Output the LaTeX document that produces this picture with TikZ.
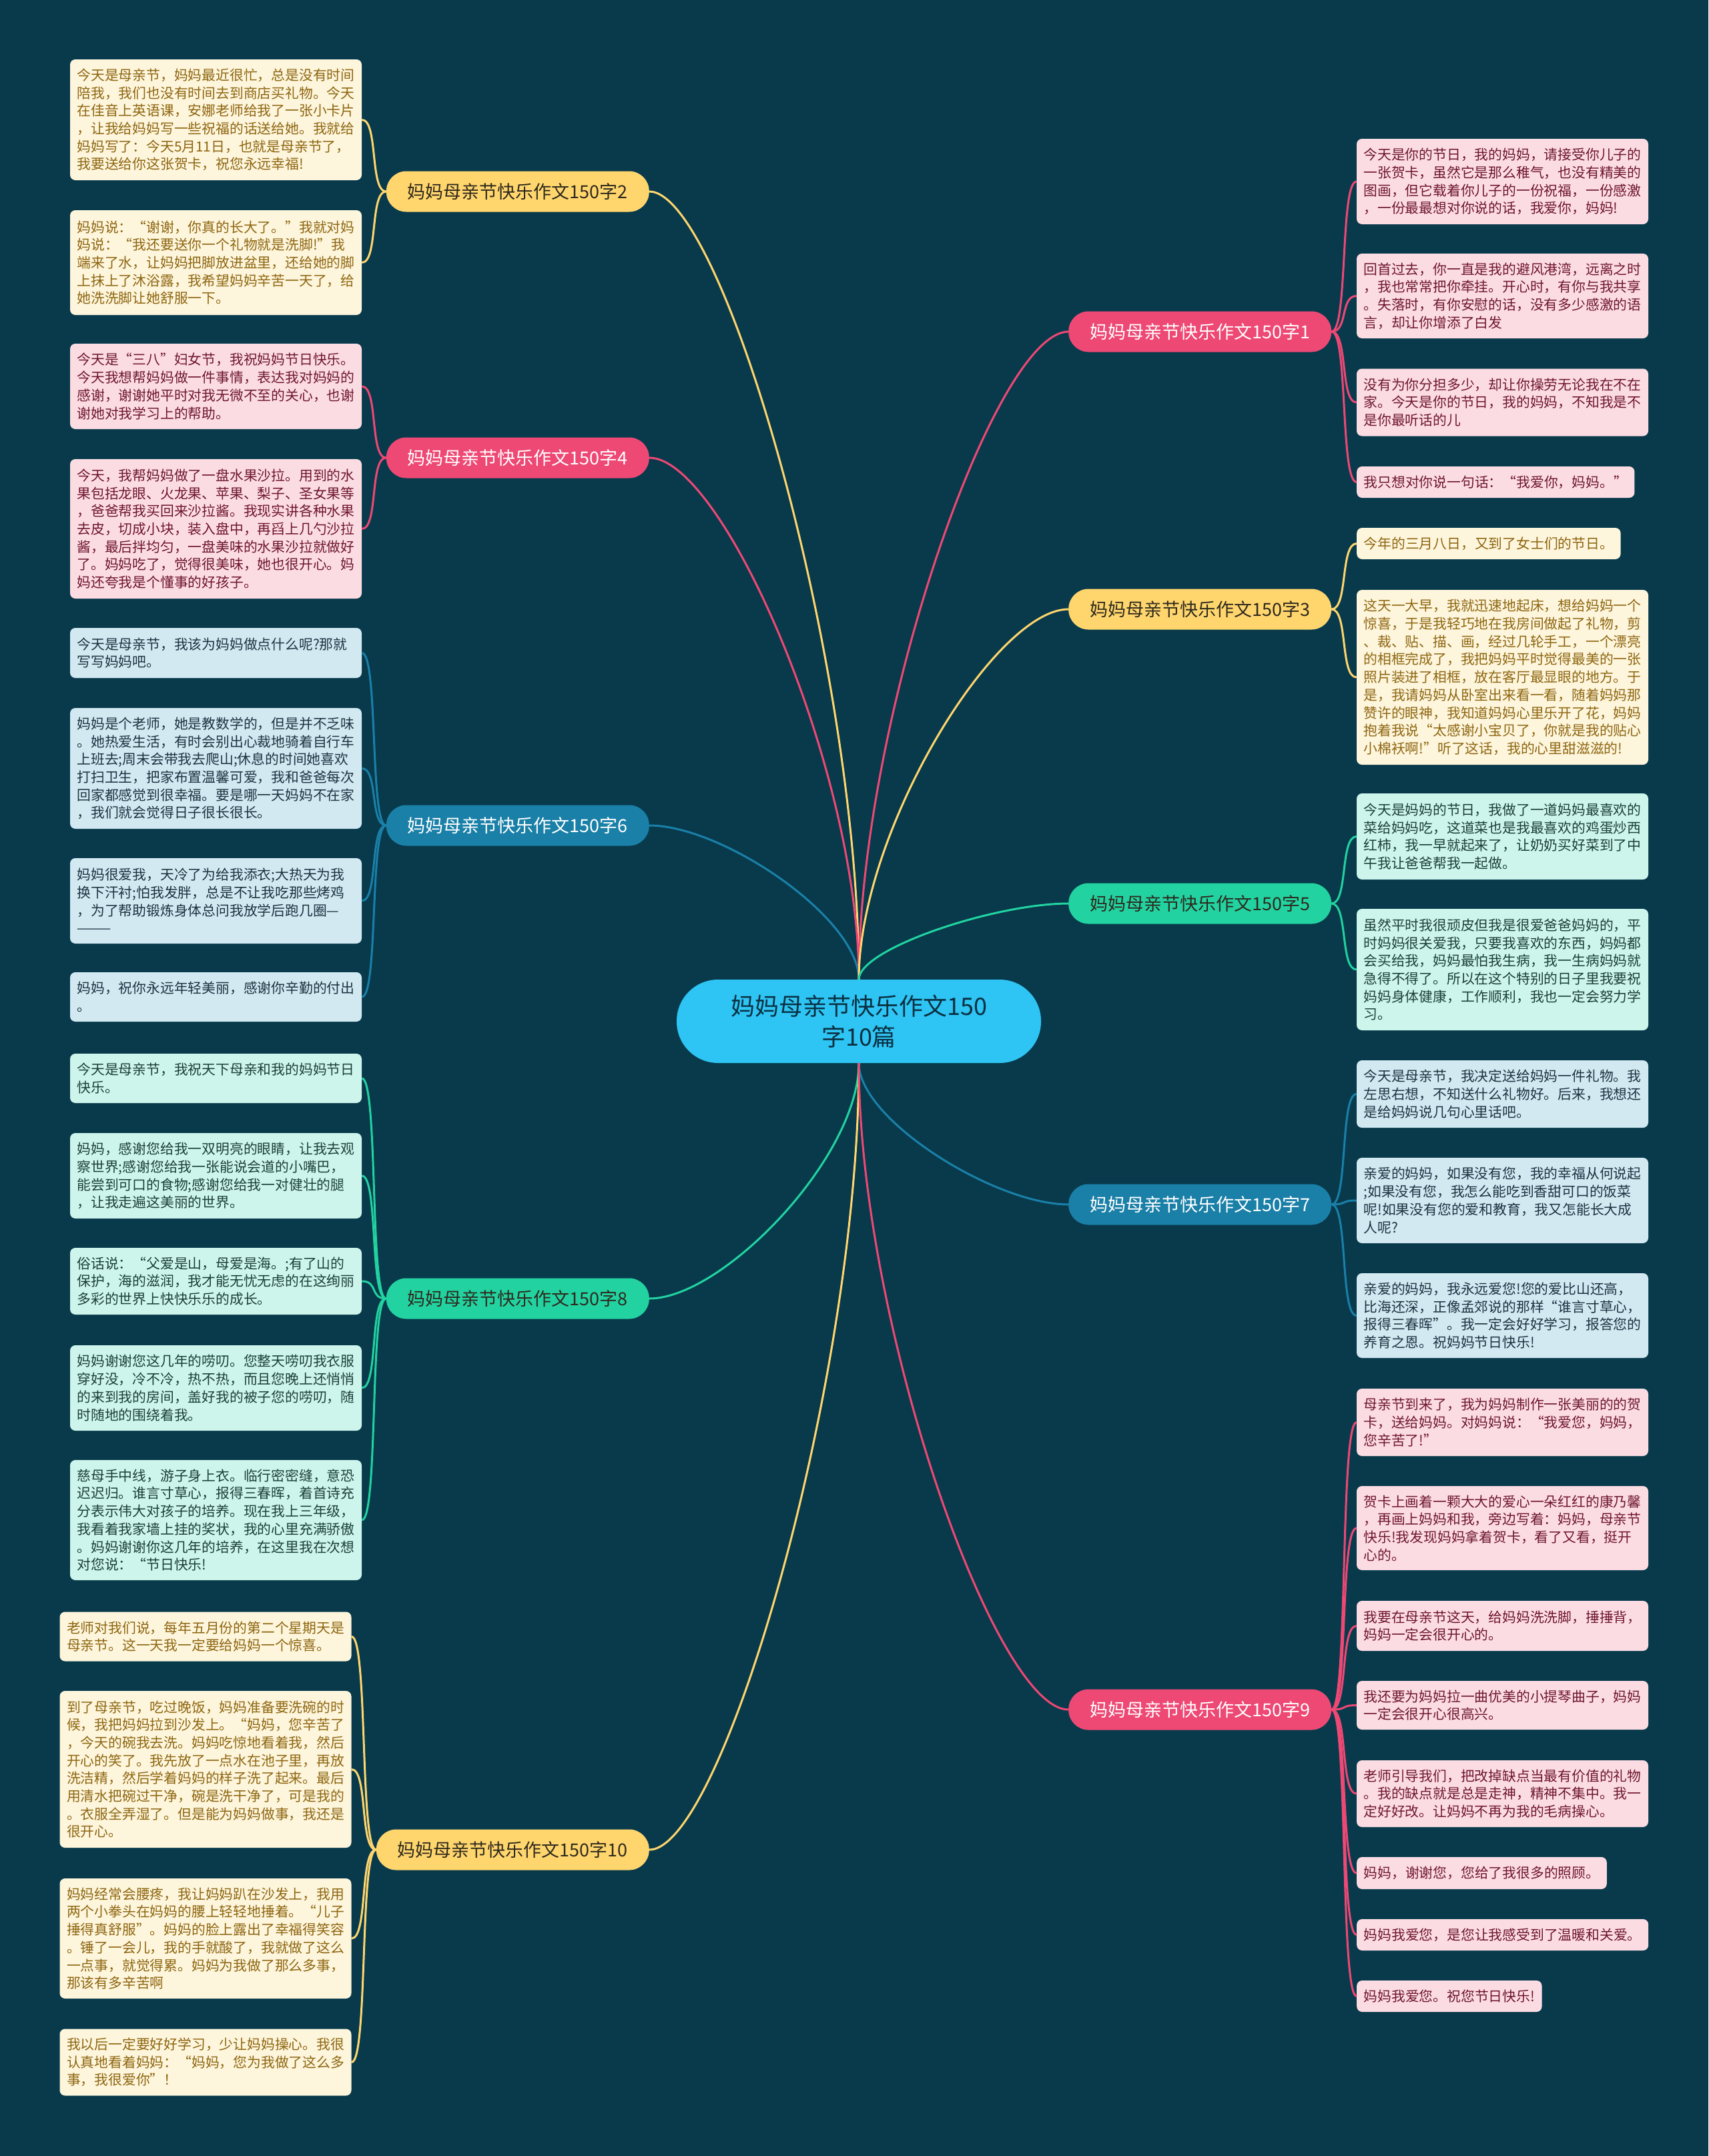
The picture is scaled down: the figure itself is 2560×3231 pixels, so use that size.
\documentclass[tikz,border=0pt]{standalone}
\usepackage{fontspec}
\setmainfont{Noto Sans CJK SC}
\definecolor{bg}{HTML}{083A4C}
\definecolor{ybr}{HTML}{FFD56D}
\definecolor{pbr}{HTML}{EE4874}
\definecolor{bbr}{HTML}{1A80A8}
\definecolor{gbr}{HTML}{22D2A0}
\definecolor{yfill}{HTML}{FDF5DC}
\definecolor{pfill}{HTML}{FCDCE3}
\definecolor{bfill}{HTML}{D2E9F2}
\definecolor{gfill}{HTML}{CEF5EB}
\definecolor{ytext}{HTML}{8E6610}
\definecolor{ptext}{HTML}{6E162E}
\definecolor{btext}{HTML}{1B3440}
\definecolor{gtext}{HTML}{1B3F38}
\definecolor{ctr}{HTML}{2EC4F3}
\definecolor{ctrtext}{HTML}{0A3042}
\definecolor{dark}{HTML}{2E2A1E}
\tikzset{
  leaf/.style={rounded corners=8pt, inner xsep=10.5pt, inner ysep=6pt, align=left,
    font=\fontsize{20.8}{26.7}\selectfont},
  wide/.style={text width=416pt},
  yleaf/.style={leaf, fill=yfill, text=ytext},
  pleaf/.style={leaf, fill=pfill, text=ptext},
  bleaf/.style={leaf, fill=bfill, text=btext},
  gleaf/.style={leaf, fill=gfill, text=gtext},
  branch/.style={rounded corners=30pt, minimum height=61pt, minimum width=390pt,
    inner xsep=32pt, font=\fontsize{27}{30}\selectfont},
  ybranch/.style={branch, fill=ybr, text=dark},
  pbranch/.style={branch, fill=pbr, text=white},
  bbranch/.style={branch, fill=bbr, text=white},
  gbranch/.style={branch, fill=gbr, text=dark},
  conn/.style={line width=3pt},
  yline/.style={conn, draw=ybr},
  pline/.style={conn, draw=pbr},
  bline/.style={conn, draw=bbr},
  gline/.style={conn, draw=gbr},
}
\begin{document}
\begin{tikzpicture}[x=1pt,y=-1pt]
\fill[bg] (0,0) rectangle (2560,3231);
\useasboundingbox (0,0) rectangle (2560,3231);

% center
\node[fill=ctr, text=ctrtext, rounded corners=62pt, minimum width=546pt, minimum height=125pt,
  align=center, font=\fontsize{36}{46}\selectfont] (c) at (1287,1530.5)
  {妈妈母亲节快乐作文150\\字10篇};

% branches
\node[ybranch, anchor=east] (b2) at (973,287) {妈妈母亲节快乐作文150字2};
\node[pbranch, anchor=east] (b4) at (973,686) {妈妈母亲节快乐作文150字4};
\node[bbranch, anchor=east] (b6) at (973,1237) {妈妈母亲节快乐作文150字6};
\node[gbranch, anchor=east] (b8) at (973,1946) {妈妈母亲节快乐作文150字8};
\node[ybranch, anchor=east] (b10) at (973,2772) {妈妈母亲节快乐作文150字10};
\node[pbranch, anchor=west] (b1) at (1601,497) {妈妈母亲节快乐作文150字1};
\node[ybranch, anchor=west] (b3) at (1601,913) {妈妈母亲节快乐作文150字3};
\node[gbranch, anchor=west] (b5) at (1601,1354) {妈妈母亲节快乐作文150字5};
\node[bbranch, anchor=west] (b7) at (1601,1805) {妈妈母亲节快乐作文150字7};
\node[pbranch, anchor=west] (b9) at (1601,2562) {妈妈母亲节快乐作文150字9};

% left leaves
\node[yleaf, wide, minimum height=181pt] (l2a) at (323.5,179.5) {今天是母亲节，妈妈最近很忙，总是没有时间\\陪我，我们也没有时间去到商店买礼物。今天\\在佳音上英语课，安娜老师给我了一张小卡片\\，让我给妈妈写一些祝福的话送给她。我就给\\妈妈写了：今天5月11日，也就是母亲节了，\\我要送给你这张贺卡，祝您永远幸福!};
\node[yleaf, wide, minimum height=157pt] (l2b) at (323.5,393.5) {妈妈说：“谢谢，你真的长大了。”我就对妈\\妈说：“我还要送你一个礼物就是洗脚!”我\\端来了水，让妈妈把脚放进盆里，还给她的脚\\上抹上了沐浴露，我希望妈妈辛苦一天了，给\\她洗洗脚让她舒服一下。};
\node[pleaf, wide, minimum height=128pt] (l4a) at (323.5,579) {今天是“三八”妇女节，我祝妈妈节日快乐。\\今天我想帮妈妈做一件事情，表达我对妈妈的\\感谢，谢谢她平时对我无微不至的关心，也谢\\谢她对我学习上的帮助。};
\node[pleaf, wide, minimum height=209pt] (l4b) at (323.5,792.5) {今天，我帮妈妈做了一盘水果沙拉。用到的水\\果包括龙眼、火龙果、苹果、梨子、圣女果等\\，爸爸帮我买回来沙拉酱。我现实讲各种水果\\去皮，切成小块，装入盘中，再舀上几勺沙拉\\酱，最后拌均匀，一盘美味的水果沙拉就做好\\了。妈妈吃了，觉得很美味，她也很开心。妈\\妈还夸我是个懂事的好孩子。};
\node[bleaf, wide, minimum height=75pt] (l6a) at (323.5,978.5) {今天是母亲节，我该为妈妈做点什么呢?那就\\写写妈妈吧。};
\node[bleaf, wide, minimum height=181pt] (l6b) at (323.5,1151.5) {妈妈是个老师，她是教数学的，但是并不乏味\\。她热爱生活，有时会别出心裁地骑着自行车\\上班去;周末会带我去爬山;休息的时间她喜欢\\打扫卫生，把家布置温馨可爱，我和爸爸每次\\回家都感觉到很幸福。要是哪一天妈妈不在家\\，我们就会觉得日子很长很长。};
\node[bleaf, wide, minimum height=128pt] (l6c) at (323.5,1350) {妈妈很爱我，天冷了为给我添衣;大热天为我\\换下汗衬;怕我发胖，总是不让我吃那些烤鸡\\，为了帮助锻炼身体总问我放学后跑几圈—\\———};
\node[bleaf, wide, minimum height=74pt] (l6d) at (323.5,1494) {妈妈，祝你永远年轻美丽，感谢你辛勤的付出\\。};
\node[gleaf, wide, minimum height=74pt] (l8a) at (323.5,1616) {今天是母亲节，我祝天下母亲和我的妈妈节日\\快乐。};
\node[gleaf, wide, minimum height=128pt] (l8b) at (323.5,1762) {妈妈，感谢您给我一双明亮的眼睛，让我去观\\察世界;感谢您给我一张能说会道的小嘴巴，\\能尝到可口的食物;感谢您给我一对健壮的腿\\，让我走遍这美丽的世界。};
\node[gleaf, wide, minimum height=100pt] (l8c) at (323.5,1920) {俗话说：“父爱是山，母爱是海。;有了山的\\保护，海的滋润，我才能无忧无虑的在这绚丽\\多彩的世界上快快乐乐的成长。};
\node[gleaf, wide, minimum height=128pt] (l8d) at (323.5,2080) {妈妈谢谢您这几年的唠叨。您整天唠叨我衣服\\穿好没，冷不冷，热不热，而且您晚上还悄悄\\的来到我的房间，盖好我的被子您的唠叨，随\\时随地的围绕着我。};
\node[gleaf, wide, minimum height=180pt] (l8e) at (323.5,2278) {慈母手中线，游子身上衣。临行密密缝，意恐\\迟迟归。谁言寸草心，报得三春晖，着首诗充\\分表示伟大对孩子的培养。现在我上三年级，\\我看着我家墙上挂的奖状，我的心里充满骄傲\\。妈妈谢谢你这几年的培养，在这里我在次想\\对您说：“节日快乐!};
\node[yleaf, wide, minimum height=74pt] (l10a) at (308,2452.5) {老师对我们说，每年五月份的第二个星期天是\\母亲节。这一天我一定要给妈妈一个惊喜。};
\node[yleaf, wide, minimum height=235pt] (l10b) at (308,2651.5) {到了母亲节，吃过晚饭，妈妈准备要洗碗的时\\候，我把妈妈拉到沙发上。“妈妈，您辛苦了\\，今天的碗我去洗。妈妈吃惊地看着我，然后\\开心的笑了。我先放了一点水在池子里，再放\\洗洁精，然后学着妈妈的样子洗了起来。最后\\用清水把碗过干净，碗是洗干净了，可是我的\\。衣服全弄湿了。但是能为妈妈做事，我还是\\很开心。};
\node[yleaf, wide, minimum height=180pt] (l10c) at (308,2905) {妈妈经常会腰疼，我让妈妈趴在沙发上，我用\\两个小拳头在妈妈的腰上轻轻地捶着。“儿子\\捶得真舒服”。妈妈的脸上露出了幸福得笑容\\。锤了一会儿，我的手就酸了，我就做了这么\\一点事，就觉得累。妈妈为我做了那么多事，\\那该有多辛苦啊};
\node[yleaf, wide, minimum height=100pt] (l10d) at (308,3090.5) {我以后一定要好好学习，少让妈妈操心。我很\\认真地看着妈妈：“妈妈，您为我做了这么多\\事，我很爱你”！};

% right leaves
\node[pleaf, wide, minimum height=128pt] (r1a) at (2251.5,272) {今天是你的节日，我的妈妈，请接受你儿子的\\一张贺卡，虽然它是那么稚气，也没有精美的\\图画，但它载着你儿子的一份祝福，一份感激\\，一份最最想对你说的话，我爱你，妈妈!};
\node[pleaf, wide, minimum height=127pt] (r1b) at (2251.5,443.5) {回首过去，你一直是我的避风港湾，远离之时\\，我也常常把你牵挂。开心时，有你与我共享\\。失落时，有你安慰的话，没有多少感激的语\\言，却让你增添了白发};
\node[pleaf, wide, minimum height=101pt] (r1c) at (2251.5,603) {没有为你分担多少，却让你操劳无论我在不在\\家。今天是你的节日，我的妈妈，不知我是不\\是你最听话的儿};
\node[pleaf, anchor=west, minimum height=47pt] (r1d) at (2033,722.5) {我只想对你说一句话：“我爱你，妈妈。"};
\node[yleaf, anchor=west, minimum height=47pt] (r3a) at (2033,814.5) {今年的三月八日，又到了女士们的节日。};
\node[yleaf, wide, minimum height=262pt] (r3b) at (2251.5,1015) {这天一大早，我就迅速地起床，想给妈妈一个\\惊喜，于是我轻巧地在我房间做起了礼物，剪\\、裁、贴、描、画，经过几轮手工，一个漂亮\\的相框完成了，我把妈妈平时觉得最美的一张\\照片装进了相框，放在客厅最显眼的地方。于\\是，我请妈妈从卧室出来看一看，随着妈妈那\\赞许的眼神，我知道妈妈心里乐开了花，妈妈\\抱着我说“太感谢小宝贝了，你就是我的贴心\\小棉袄啊!”听了这话，我的心里甜滋滋的!};
\node[gleaf, wide, minimum height=129pt] (r5a) at (2251.5,1253.5) {今天是妈妈的节日，我做了一道妈妈最喜欢的\\菜给妈妈吃，这道菜也是我最喜欢的鸡蛋炒西\\红柿，我一早就起来了，让奶奶买好菜到了中\\午我让爸爸帮我一起做。};
\node[gleaf, wide, minimum height=182pt] (r5b) at (2251.5,1453) {虽然平时我很顽皮但我是很爱爸爸妈妈的，平\\时妈妈很关爱我，只要我喜欢的东西，妈妈都\\会买给我，妈妈最怕我生病，我一生病妈妈就\\急得不得了。所以在这个特别的日子里我要祝\\妈妈身体健康，工作顺利，我也一定会努力学\\习。};
\node[bleaf, wide, minimum height=101pt] (r7a) at (2251.5,1639.5) {今天是母亲节，我决定送给妈妈一件礼物。我\\左思右想，不知送什么礼物好。后来，我想还\\是给妈妈说几句心里话吧。};
\node[bleaf, wide, minimum height=128pt] (r7b) at (2251.5,1799) {亲爱的妈妈，如果没有您，我的幸福从何说起\\;如果没有您，我怎么能吃到香甜可口的饭菜\\呢!如果没有您的爱和教育，我又怎能长大成\\人呢?};
\node[bleaf, wide, minimum height=127pt] (r7c) at (2251.5,1971.5) {亲爱的妈妈，我永远爱您!您的爱比山还高，\\比海还深，正像孟郊说的那样“谁言寸草心，\\报得三春晖”。我一定会好好学习，报答您的\\养育之恩。祝妈妈节日快乐!};
\node[pleaf, wide, minimum height=101pt] (r9a) at (2251.5,2131.5) {母亲节到来了，我为妈妈制作一张美丽的的贺\\卡，送给妈妈。对妈妈说：“我爱您，妈妈，\\您辛苦了!”};
\node[pleaf, wide, minimum height=126pt] (r9b) at (2251.5,2290) {贺卡上画着一颗大大的爱心一朵红红的康乃馨\\，再画上妈妈和我，旁边写着：妈妈，母亲节\\快乐!我发现妈妈拿着贺卡，看了又看，挺开\\心的。};
\node[pleaf, wide, minimum height=75pt] (r9c) at (2251.5,2436.5) {我要在母亲节这天，给妈妈洗洗脚，捶捶背，\\妈妈一定会很开心的。};
\node[pleaf, wide, minimum height=73pt] (r9d) at (2251.5,2555.5) {我还要为妈妈拉一曲优美的小提琴曲子，妈妈\\一定会很开心很高兴。};
\node[pleaf, wide, minimum height=100pt] (r9e) at (2251.5,2688) {老师引导我们，把改掉缺点当最有价值的礼物\\。我的缺点就是总是走神，精神不集中。我一\\定好好改。让妈妈不再为我的毛病操心。};
\node[pleaf, anchor=west, minimum height=48pt] (r9f) at (2033,2807) {妈妈，谢谢您，您给了我很多的照顾。};
\node[pleaf, anchor=west, minimum height=47pt] (r9g) at (2033,2899.5) {妈妈我爱您，是您让我感受到了温暖和关爱。};
\node[pleaf, anchor=west, minimum height=47pt] (r9h) at (2033,2991.5) {妈妈我爱您。祝您节日快乐!};

% center to branches
\draw[yline] (c.north) .. controls +(0,-472) and +(110,0) .. (b2.east);
\draw[pline] (c.north) .. controls +(0,-313) and +(110,0) .. (b4.east);
\draw[bline] (c.north) .. controls +(0,-92) and +(110,0) .. (b6.east);
\draw[gline] (c.south) .. controls +(0,141) and +(110,0) .. (b8.east);
\draw[yline] (c.south) .. controls +(0,472) and +(110,0) .. (b10.east);
\draw[pline] (c.north) .. controls +(0,-388) and +(-110,0) .. (b1.west);
\draw[yline] (c.north) .. controls +(0,-222) and +(-110,0) .. (b3.west);
\draw[gline] (c.north) .. controls +(0,-46) and +(-110,0) .. (b5.west);
\draw[bline] (c.south) .. controls +(0,85) and +(-110,0) .. (b7.west);
\draw[pline] (c.south) .. controls +(0,388) and +(-110,0) .. (b9.west);

% branches to leaves (left)
\foreach \l in {l2a,l2b} \draw[yline] (b2.west) .. controls +(-25,0) and +(25,0) .. (\l.east);
\foreach \l in {l4a,l4b} \draw[pline] (b4.west) .. controls +(-25,0) and +(25,0) .. (\l.east);
\foreach \l in {l6a,l6b,l6c,l6d} \draw[bline] (b6.west) .. controls +(-25,0) and +(25,0) .. (\l.east);
\foreach \l in {l8a,l8b,l8c,l8d,l8e} \draw[gline] (b8.west) .. controls +(-25,0) and +(25,0) .. (\l.east);
\foreach \l in {l10a,l10b,l10c,l10d} \draw[yline] (b10.west) .. controls +(-25,0) and +(25,0) .. (\l.east);
% branches to leaves (right)
\foreach \l in {r1a,r1b,r1c,r1d} \draw[pline] (b1.east) .. controls +(25,0) and +(-25,0) .. (\l.west);
\foreach \l in {r3a,r3b} \draw[yline] (b3.east) .. controls +(25,0) and +(-25,0) .. (\l.west);
\foreach \l in {r5a,r5b} \draw[gline] (b5.east) .. controls +(25,0) and +(-25,0) .. (\l.west);
\foreach \l in {r7a,r7b,r7c} \draw[bline] (b7.east) .. controls +(25,0) and +(-25,0) .. (\l.west);
\foreach \l in {r9a,r9b,r9c,r9d,r9e,r9f,r9g,r9h} \draw[pline] (b9.east) .. controls +(25,0) and +(-25,0) .. (\l.west);
\end{tikzpicture}
\end{document}
